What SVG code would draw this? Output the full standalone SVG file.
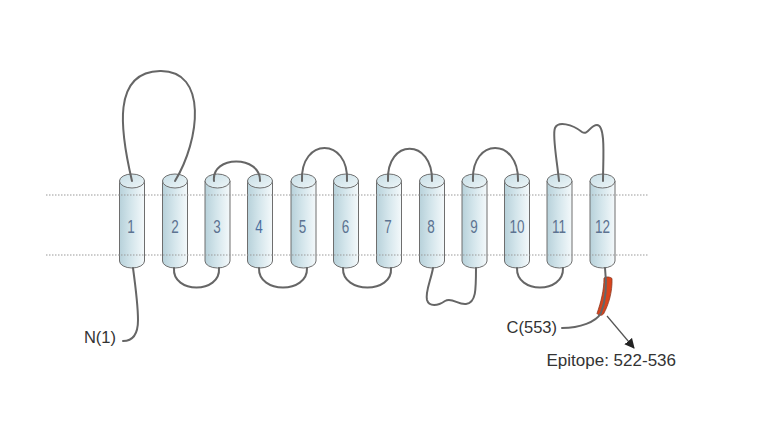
<svg xmlns="http://www.w3.org/2000/svg" xmlns:xlink="http://www.w3.org/1999/xlink" width="766" height="445" viewBox="0 0 766 445">
<style>
.cbody{fill:url(#gb);stroke:#6e6e6e;stroke-width:1}
.ctop{fill:url(#gt);stroke:#6e6e6e;stroke-width:1}
.num{font-family:"Liberation Sans",Arial,sans-serif;font-size:18px;fill:#5d7391;text-anchor:middle}
.chain{fill:none;stroke:#666;stroke-width:2;stroke-linecap:round}
.memb{stroke:#9a9a9a;stroke-width:1.2;stroke-dasharray:1.5 1.5}
.lbl{font-family:"Liberation Sans",Arial,sans-serif;font-size:16.5px;fill:#333}
</style>
<defs>
<linearGradient id="gb" x1="0" y1="0" x2="1" y2="0">
<stop offset="0" stop-color="#b7d1da"/>
<stop offset="0.45" stop-color="#d3e5eb"/>
<stop offset="1" stop-color="#f4f9fb"/>
</linearGradient>
<linearGradient id="gt" x1="0" y1="0" x2="1" y2="1">
<stop offset="0" stop-color="#c6dde5"/>
<stop offset="1" stop-color="#eef6f8"/>
</linearGradient>
<g id="cyl">
<path class="cbody" d="M-12.5,181 L-12.5,261 A12.5,7 0 0 0 12.5,261 L12.5,181 Z"/>
<ellipse class="ctop" cx="0" cy="181" rx="12.5" ry="7"/>
</g>
<marker id="ah" viewBox="0 0 10 10" refX="9" refY="5" markerWidth="10" markerHeight="10" markerUnits="userSpaceOnUse" orient="auto">
<path d="M0,0 L10,5 L0,10 Z" fill="#222"/>
</marker>
</defs>
<rect width="766" height="445" fill="#fff"/>
<g id="helices">
<g id="tm1"><use xlink:href="#cyl" x="132"/><text class="num" x="131" y="233" textLength="7.5" lengthAdjust="spacingAndGlyphs">1</text></g>
<g id="tm2"><use xlink:href="#cyl" x="175"/><text class="num" x="175" y="233" textLength="7.5" lengthAdjust="spacingAndGlyphs">2</text></g>
<g id="tm3"><use xlink:href="#cyl" x="217.5"/><text class="num" x="217" y="233" textLength="7.5" lengthAdjust="spacingAndGlyphs">3</text></g>
<g id="tm4"><use xlink:href="#cyl" x="260"/><text class="num" x="259" y="233" textLength="7.5" lengthAdjust="spacingAndGlyphs" style="fill:#4a6ea0">4</text></g>
<g id="tm5"><use xlink:href="#cyl" x="303.5"/><text class="num" x="302.5" y="233" textLength="7.5" lengthAdjust="spacingAndGlyphs">5</text></g>
<g id="tm6"><use xlink:href="#cyl" x="346"/><text class="num" x="345.5" y="233" textLength="7.5" lengthAdjust="spacingAndGlyphs">6</text></g>
<g id="tm7"><use xlink:href="#cyl" x="389"/><text class="num" x="388" y="233" textLength="7.5" lengthAdjust="spacingAndGlyphs">7</text></g>
<g id="tm8"><use xlink:href="#cyl" x="432"/><text class="num" x="431" y="233" textLength="7.5" lengthAdjust="spacingAndGlyphs">8</text></g>
<g id="tm9"><use xlink:href="#cyl" x="474.5"/><text class="num" x="474" y="233" textLength="7.5" lengthAdjust="spacingAndGlyphs">9</text></g>
<g id="tm10"><use xlink:href="#cyl" x="517"/><text class="num" x="517" y="233" textLength="15" lengthAdjust="spacingAndGlyphs">10</text></g>
<g id="tm11"><use xlink:href="#cyl" x="559.5"/><text class="num" x="559" y="233" textLength="14" lengthAdjust="spacingAndGlyphs">11</text></g>
<g id="tm12"><use xlink:href="#cyl" x="602.5"/><text class="num" x="602.5" y="233" textLength="15" lengthAdjust="spacingAndGlyphs">12</text></g>
</g>
<g id="membrane">
<line class="memb" x1="46" y1="195" x2="648" y2="195"/>
<line class="memb" x1="46" y1="255" x2="648" y2="255"/>
</g>
<g id="connectors">
<path class="chain" d="M133,268 C136,290 138,305 138,320 C138,335 132,341 123,341"/>
<path class="chain" d="M132,181 C120,130 112,72 160,71 C208,70 200,140 175,181"/>
<path class="chain" d="M174,268 C172,294 221,294 219,268"/>
<path class="chain" d="M214,181 C211,155 261,155 260,181"/>
<path class="chain" d="M259,268 C258,294 308,294 307,268"/>
<path class="chain" d="M302,181 C300,137 349,137 347,181"/>
<path class="chain" d="M343,268 C342,294 393,294 391,268"/>
<path class="chain" d="M388,181 C386,138 433,138 432,181"/>
<path class="chain" d="M433,268 C431,280 425,292 427,300 C429,307 438,306 445,301 C452,297 458,305 466,304 C476,303 476,290 476,268"/>
<path class="chain" d="M473,181 C471,137 519,137 518,181"/>
<path class="chain" d="M517,268 C516,294 564,294 563,268"/>
<path class="chain" d="M559,181 C557,160 552,135 555,128 C558,121 572,124 582,132 C588,136 590,125 597,125 C606,125 603,160 603,181"/>
<path d="M604,278 C606,276.5 610,276.5 612,278.5 C612.5,292 608.5,305 603.5,314 C601.5,316 598.5,315.5 597,313.5 C601,302 604,290 604,278 Z" fill="#d9441d" stroke="#8a3b25" stroke-width="0.8"/>
<path class="chain" d="M605,268 C607,285 606,300 601,313 C596,322 580,328 562,328"/>
<line x1="607" y1="316" x2="634" y2="348" stroke="#555" stroke-width="1.2" marker-end="url(#ah)"/>
</g>
<g id="labels">
<text class="lbl" x="116" y="343" text-anchor="end">N(1)</text>
<text class="lbl" x="557" y="333" text-anchor="end">C(553)</text>
<text class="lbl" x="546.5" y="366" style="font-size:17px">Epitope: 522-536</text>
</g>
</svg>
